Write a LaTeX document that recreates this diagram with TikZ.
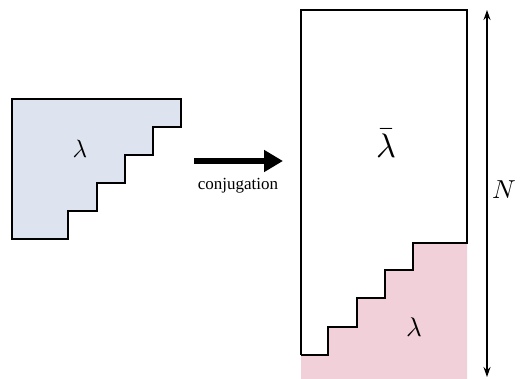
\documentclass[tikz,border=0pt]{standalone}
\usepackage{fontspec}
\setmainfont{Liberation Serif}
\usetikzlibrary{arrows.meta}

\definecolor{youngblue}{RGB}{222,228,239}
\definecolor{youngpink}{RGB}{242,208,218}

\begin{document}
\begin{tikzpicture}[x=1pt,y=-1pt,line width=1.1pt,line join=miter]
      \useasboundingbox (0,0) rectangle (522,379);
      \clip (0,0) rectangle (522,379);

      % the partition lambda
      \filldraw[fill=youngblue] (12,99) -- (181,99) -- (181,127)
        -- (153,127) -- (153,155) -- (125,155) -- (125,183)
        -- (97,183) -- (97,211) -- (68,211) -- (68,239)
        -- (12,239) -- cycle;
      \node[scale=2.5] (lam) at (80,149){$\lambda$};

      % conjugation arrow
      \coordinate (conjL) at (194,161);
      \coordinate (conjR) at (283,161);
      \draw[line width=6pt,-{Triangle[length=19pt,width=21pt]}]
        (conjL) -- (conjR);
      \node (conjtext) at (238,186){\fontsize{17}{20}\selectfont conjugation};

      % complement in the N box
      \fill[youngpink] (301,355) -- (328,355) -- (328,327)
        -- (357,327) -- (357,298) -- (385,298) -- (385,270)
        -- (413,270) -- (413,243) -- (467,243) -- (467,390)
        -- (301,390) -- cycle;
      \draw (301,355) -- (301,10) -- (467,10) -- (467,243)
        -- (413,243) -- (413,270) -- (385,270) -- (385,298)
        -- (357,298) -- (357,327) -- (328,327) -- (328,355)
        -- (301,355);
      \node[scale=3.4] (lambar) at (386,143){$\bar{\lambda}$};
      \node[scale=2.7] (lampink) at (414,327){$\lambda$};

      % height N
      \coordinate (Ntop) at (487,10);
      \coordinate (Nbot) at (487,377);
      \draw[line width=1.2pt,{Stealth[length=10pt,width=7pt]}-{Stealth[length=10pt,width=7pt]}]
        (Ntop) -- (Nbot);
      \node[scale=2.6] (Nlabel) at (504,190){$N$};
    \end{tikzpicture}
\end{document}
